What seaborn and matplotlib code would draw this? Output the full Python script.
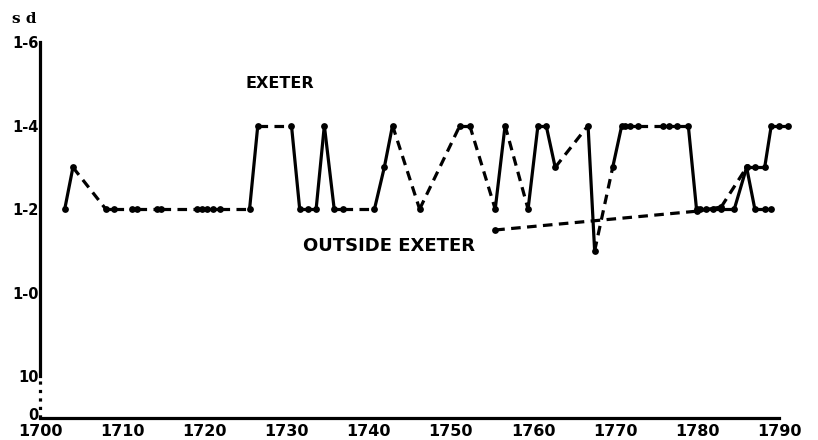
import numpy as np
import pandas as pd
import matplotlib
matplotlib.use("Agg")
import matplotlib.pyplot as plt
import matplotlib.transforms as mtransforms
import seaborn as sns

# wages in pence (1-2 = 1s 2d = 14d)
exeter_year = [1703, 1704, 1708, 1709, 1711.2, 1711.8, 1714.2, 1714.7, 1719.1, 1719.7,
               1720.3, 1721.1, 1721.9, 1725.5, 1726.5, 1730.6, 1731.6, 1732.6, 1733.6, 1734.6,
               1735.8, 1736.9, 1740.7, 1741.9, 1742.9, 1746.2, 1751.1, 1752.3, 1755.4, 1756.6,
               1759.4, 1760.6, 1761.6, 1762.7, 1766.7, 1767.5, 1769.7, 1770.8, 1771.2, 1771.8,
               1772.8, 1775.8, 1776.6, 1777.5, 1778.9, 1779.9, 1780.3, 1781.1, 1781.9, 1782.9,
               1784.5, 1786.0, 1787.0, 1788.2, 1789.0, 1790.0, 1791.0]
exeter_pence = [14, 15, 14, 14, 14, 14, 14, 14, 14, 14,
                14, 14, 14, 14, 16, 16, 14, 14, 14, 16,
                14, 14, 14, 15, 16, 14, 16, 16, 14, 16,
                14, 16, 16, 15, 16, 13, 15, 16, 16, 16,
                16, 16, 16, 16, 16, 14, 14, 14, 14, 14,
                14, 15, 15, 15, 16, 16, 16]
# True where the record has a gap before this point (drawn dashed)
exeter_gap = [False, False, True, False, True, False, True, False, True, False,
              False, False, False, True, False, True, False, False, False, False,
              False, False, True, False, False, True, True, False, True, False,
              True, False, False, False, True, False, True, False, False, False,
              False, True, False, False, True, False, False, False, False, False,
              False, False, False, False, False, False, False]

outside_year = [1755.4, 1779.9, 1782.9, 1786.0, 1787.0, 1788.2, 1789.0]
outside_pence = [13.5, 13.95, 14.05, 15, 14, 14, 14]
outside_gap = [False, True, False, True, False, False, False]

y_ticks = [9, 10, 11, 12, 13, 14, 15, 16, 17, 18]
y_labels = ["0", "10", "", "1-0", "", "1-2", "", "1-4", "", "1-6"]
x_ticks = list(range(1700, 1791, 10))


def segments(name, years, pence, gaps):
    rows = []
    for i in range(1, len(years)):
        kind = "dashed" if gaps[i] else "solid"
        for j in (i - 1, i):
            rows.append({"seg": f"{name}{i}", "year": years[j], "pence": pence[j], "kind": kind})
    return rows


seg_df = pd.DataFrame(segments("ex", exeter_year, exeter_pence, exeter_gap)
                      + segments("out", outside_year, outside_pence, outside_gap))
pts_df = pd.DataFrame({"year": exeter_year + outside_year,
                       "pence": exeter_pence + outside_pence})

sns.set_style("white")
plt.rcParams["font.family"] = ["DejaVu Sans"]
plt.rcParams["font.weight"] = "bold"
plt.rcParams["text.color"] = "black"
plt.rcParams["xtick.color"] = "black"
plt.rcParams["ytick.color"] = "black"

fig = plt.figure(figsize=(8.18, 4.40), dpi=100)
ax = fig.add_axes([0.049, 0.05, 0.924, 0.902])

sns.lineplot(data=seg_df, x="year", y="pence", units="seg", style="kind",
             estimator=None, sort=False, dashes={"solid": "", "dashed": (3, 2)},
             color="black", linewidth=2.3, legend=False, ax=ax)
sns.scatterplot(data=pts_df, x="year", y="pence", color="black", s=24,
                linewidth=0, zorder=3, legend=False, ax=ax)

ax.set_xlim(1700, 1792)
ax.set_ylim(9, 18.5)
ax.set_xticks(x_ticks)
ax.set_xticklabels([str(t) for t in x_ticks], fontsize=11.5, fontweight="bold")
ax.set_yticks(y_ticks)
ax.set_yticklabels(y_labels, fontsize=10.5, fontweight="bold")
ax.tick_params(axis="both", direction="in", length=5, width=2, colors="black")
ax.tick_params(axis="y", pad=1)
ax.tick_params(axis="x", pad=4)
ax.set_xlabel("")
ax.set_ylabel("")

# lift the "0" a little so it sits above the 1700 label
zero_label = ax.get_yticklabels()[0]
zero_label.set_transform(zero_label.get_transform()
                         + mtransforms.ScaledTranslation(0, 3 / 72, fig.dpi_scale_trans))

for side in ("top", "right"):
    ax.spines[side].set_visible(False)
ax.spines["left"].set_bounds(10, 18)
ax.spines["bottom"].set_bounds(1700, 1790)
for side in ("left", "bottom"):
    ax.spines[side].set_linewidth(2.3)
    ax.spines[side].set_color("black")
# broken axis between 0 and 10d
ax.plot([1700, 1700], [9, 10], color="black", linestyle=":", linewidth=2.3, clip_on=False)

ax.text(1725, 17.0, "EXETER", fontsize=11.5, fontweight="bold", va="center", ha="left")
ax.text(1732, 13.12, "OUTSIDE EXETER", fontsize=13, fontweight="bold", va="center", ha="left")
fig.text(0.015, 0.957, "s d", fontsize=11, fontweight="bold", family="DejaVu Serif",
         va="center", ha="left")

fig.savefig("out.png", dpi=100)
